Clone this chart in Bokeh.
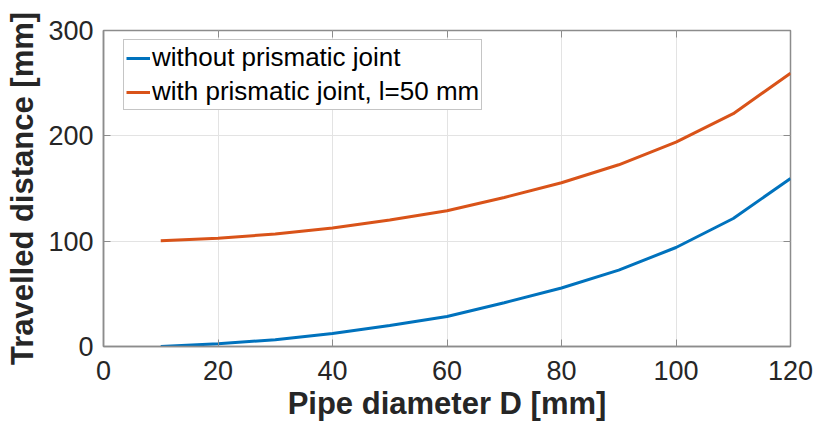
from bokeh.plotting import figure
from bokeh.models import LinearAxis, Range1d, FixedTicker, Legend, LegendItem, ColumnDataSource
from bokeh.embed import file_html
from bokeh.resources import INLINE

diameter = [10, 20, 30, 40, 50, 60, 70, 80, 90, 100, 110, 120]
without_joint = [0, 2.5, 6.5, 12.3, 20, 28.5, 41.5, 55.5, 72.5, 94, 121.5, 159.5]
with_joint = [100.5, 102.8, 106.8, 112.5, 120, 128.8, 141.5, 155.5, 172.5, 194, 221, 259.5]
x_ticks = [0, 20, 40, 60, 80, 100, 120]
y_ticks = [0, 100, 200, 300]
series_names = ["without prismatic joint", "with prismatic joint, l=50 mm"]

BLUE = "#0072BD"
ORANGE = "#D95319"
TXT = "#262626"
AX = "#8c8c8c"
FONT = "Liberation Sans"

p = figure(width=815, height=430, output_backend="svg", toolbar_location=None,
           x_range=Range1d(0, 120), y_range=Range1d(0, 300),
           min_border_left=103, min_border_right=25, min_border_top=30, min_border_bottom=84)
p.outline_line_color = AX
p.outline_line_width = 1.5
p.background_fill_color = "white"
p.border_fill_color = "white"

src = ColumnDataSource(dict(x=diameter, a=without_joint, b=with_joint))
r1 = p.line("x", "a", source=src, line_color=BLUE, line_width=3)
r2 = p.line("x", "b", source=src, line_color=ORANGE, line_width=3)

for ax in (p.xaxis[0], p.yaxis[0]):
    ax.major_label_text_font = FONT
    ax.major_label_text_font_size = "27px"
    ax.major_label_text_color = TXT
    ax.axis_label_text_font = FONT
    ax.axis_label_text_font_style = "bold"
    ax.axis_label_text_color = TXT
    ax.axis_line_color = AX
    ax.axis_line_width = 1.5
    ax.major_tick_line_color = AX
    ax.major_tick_in = 7
    ax.major_tick_out = 0
    ax.minor_tick_line_color = None

p.xaxis[0].ticker = FixedTicker(ticks=x_ticks)
p.yaxis[0].ticker = FixedTicker(ticks=y_ticks)
p.xaxis[0].axis_label = "Pipe diameter D [mm]"
p.yaxis[0].axis_label = "Travelled distance [mm]"
p.xaxis[0].axis_label_text_font_size = "31px"
p.yaxis[0].axis_label_text_font_size = "31px"
p.xaxis[0].major_label_standoff = 14
p.yaxis[0].major_label_standoff = 10
p.xaxis[0].axis_label_standoff = 3
p.yaxis[0].axis_label_standoff = 5

for loc, ticks in (("above", x_ticks), ("right", y_ticks)):
    a = LinearAxis(ticker=FixedTicker(ticks=ticks))
    a.major_label_text_font_size = "0px"
    a.major_label_text_alpha = 0
    a.axis_line_color = None
    a.major_tick_line_color = AX
    a.major_tick_in = 7
    a.major_tick_out = 0
    a.minor_tick_line_color = None
    a.major_label_standoff = 0
    p.add_layout(a, loc)

p.xgrid.ticker = FixedTicker(ticks=x_ticks)
p.ygrid.ticker = FixedTicker(ticks=y_ticks)
p.xgrid.grid_line_color = "#e3e3e3"
p.ygrid.grid_line_color = "#e3e3e3"

legend = Legend(items=[LegendItem(label=series_names[0], renderers=[r1]),
                       LegendItem(label=series_names[1], renderers=[r2])],
                location=(20, 236))
legend.label_text_font = FONT
legend.label_text_font_size = "26px"
legend.label_text_color = "black"
legend.glyph_width = 24
legend.glyph_height = 30
legend.label_height = 30
legend.label_standoff = 2
legend.padding = 2
legend.spacing = 3
legend.border_line_color = AX
legend.border_line_width = 1
legend.background_fill_alpha = 1
legend.margin = 0
p.add_layout(legend, "center")

open("out.html", "w").write(file_html(p, INLINE))
